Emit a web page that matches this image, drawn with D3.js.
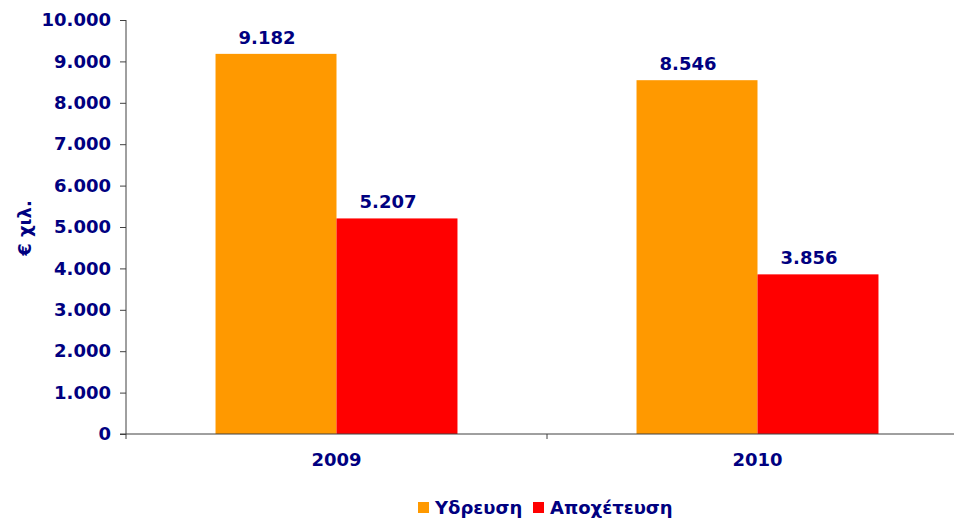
<!DOCTYPE html>
<html><head>
<meta charset="utf-8">
<script src="https://d3js.org/d3.v7.min.js"></script>
<style>
  body { margin: 0; background: #fff; }
  text { font-family: Verdana, "DejaVu Sans", sans-serif; font-weight: bold; fill: #000080; }
  .axis path, .axis line { stroke: #404040; }
</style>
</head>
<body>
<svg id="chart" width="954" height="518"></svg>
<script>

// data
var years = ["2009", "2010"];
var seriesNames = ["Υδρευση", "Αποχέτευση"];
var water = [9182, 8546];
var sewage = [5207, 3856];
var colors = ["#FF9900", "#FF0000"];

var svg = d3.select("#chart");
var plotLeft = 126, plotRight = 968, plotTop = 20, plotBottom = 434;
var fontSize = "18px";

var y = d3.scaleLinear().domain([0, 10000]).range([plotBottom, plotTop]);
var x = d3.scaleBand().domain(years).range([plotLeft, plotRight]).paddingInner(0).paddingOuter(0);
var inner = d3.scaleBand().domain(seriesNames).range([0, x.bandwidth()]).paddingOuter(0.74).paddingInner(0);

var fmt = d3.formatLocale({decimal: ",", thousands: ".", grouping: [3], currency: ["€", ""]}).format(",d");

// y axis
var yAxis = svg.append("g")
  .attr("class", "axis")
  .attr("transform", "translate(" + plotLeft + ",0)")
  .call(d3.axisLeft(y).ticks(10).tickSize(6).tickPadding(9).tickFormat(fmt));
yAxis.selectAll("text").style("font-size", fontSize);
yAxis.select(".domain").attr("d", "M0," + plotTop + "V" + plotBottom);

// bars
var rows = years.map((yr, i) => ({year: yr, values: [water[i], sewage[i]]}));

var groups = svg.selectAll("g.year").data(rows).enter()
  .append("g")
  .attr("class", "year")
  .attr("transform", d => "translate(" + x(d.year) + ",0)");

groups.selectAll("rect")
  .data(d => d.values.map((v, j) => ({name: seriesNames[j], value: v, j: j})))
  .enter().append("rect")
  .attr("x", d => inner(d.name))
  .attr("width", inner.bandwidth())
  .attr("y", d => y(d.value))
  .attr("height", d => plotBottom - y(d.value))
  .attr("fill", d => colors[d.j]);

groups.selectAll("text.val")
  .data(d => d.values.map((v, j) => ({name: seriesNames[j], value: v})))
  .enter().append("text")
  .attr("class", "val")
  .attr("x", d => inner(d.name) + inner.bandwidth() / 2 - 9)
  .attr("y", d => y(d.value) - 10)
  .attr("text-anchor", "middle")
  .style("font-size", fontSize)
  .text(d => fmt(d.value));

// x axis
var xAxis = svg.append("g")
  .attr("class", "axis")
  .attr("transform", "translate(0," + plotBottom + ")");
xAxis.append("line").attr("x1", plotLeft - 6).attr("x2", plotRight).attr("y1", 0).attr("y2", 0).attr("stroke", "#404040");
xAxis.selectAll("line.tick")
  .data(years.map(d => x(d)).concat([plotRight]))
  .enter().append("line")
  .attr("x1", d => d).attr("x2", d => d)
  .attr("y1", 0).attr("y2", 5)
  .attr("stroke", "#404040");
xAxis.selectAll("text")
  .data(years).enter().append("text")
  .attr("x", d => x(d) + x.bandwidth() / 2)
  .attr("y", 32)
  .attr("text-anchor", "middle")
  .style("font-size", fontSize)
  .text(d => d);

// y label
svg.append("text")
  .attr("transform", "translate(31,228) rotate(-90)")
  .attr("text-anchor", "middle")
  .style("font-size", fontSize)
  .text("€ χιλ.");

// legend
var legend = svg.append("g").attr("transform", "translate(418,502)");
var lx = [0, 115];
seriesNames.forEach((n, i) => {
  var g = legend.append("g").attr("transform", "translate(" + lx[i] + ",0)");
  g.append("rect").attr("width", 11).attr("height", 11).attr("fill", colors[i]);
  g.append("text").attr("x", 17).attr("y", 12).style("font-size", fontSize).text(n);
});

</script>
</body>
</html>
